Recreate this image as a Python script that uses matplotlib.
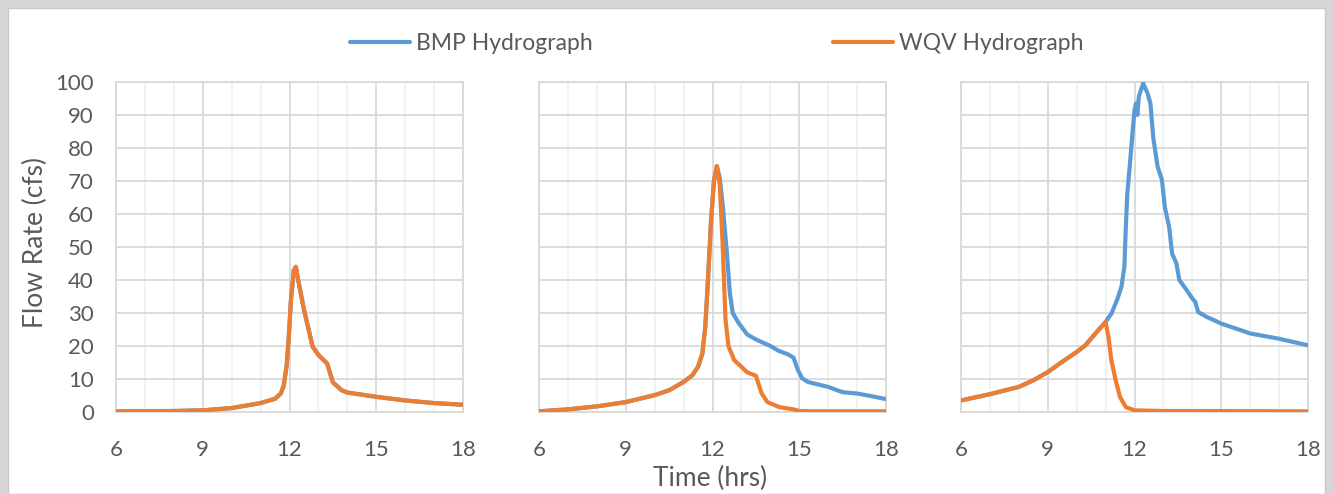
import numpy as np
import matplotlib
matplotlib.use("Agg")
import matplotlib.pyplot as plt
from matplotlib.patches import Rectangle

plt.rcParams['font.family'] = ['Lato', 'DejaVu Sans']

# Panel 1 (both hydrographs are the same)
t1 = [6, 8, 9, 10, 11, 11.5, 11.7, 11.8, 11.9, 11.97, 12.05, 12.15, 12.22, 12.3, 12.5, 12.8,
      13.0, 13.3, 13.5, 13.8, 14, 15, 16, 17, 18]
q1 = [0.2, 0.3, 0.5, 1.2, 2.7, 4.0, 5.6, 8.0, 14.0, 22.0, 34, 43, 44, 40, 31, 19.8,
      17.3, 14.7, 9.0, 6.6, 5.9, 4.6, 3.5, 2.7, 2.2]

# Panel 2
t2_wqv = [6, 7, 8, 9, 10, 10.5, 11, 11.3, 11.5, 11.65, 11.75, 11.85, 11.95, 12.05,
          12.15, 12.25, 12.35, 12.45, 12.55, 12.75, 13.0, 13.2, 13.5, 13.7, 13.9,
          14.3, 14.8, 15, 15.5, 18]
q2_wqv = [0.2, 0.8, 1.7, 3.0, 5.1, 6.6, 9.1, 11.1, 13.7, 17.7, 25.8, 41, 58, 70,
          74.5, 69, 51, 28, 20, 15.7, 13.7, 12, 11, 5.6, 3.0,
          1.5, 0.8, 0.3, 0.2, 0.2]
t2_bmp = [6, 7, 8, 9, 10, 10.5, 11, 11.3, 11.5, 11.65, 11.75, 11.85, 11.95, 12.05,
          12.15, 12.25, 12.35, 12.5, 12.6, 12.7, 12.9, 13.2, 13.5, 14.0, 14.3, 14.6,
          14.8, 14.95, 15.1, 15.3, 16, 16.5, 17, 17.5, 18]
q2_bmp = [0.2, 0.8, 1.7, 3.0, 5.1, 6.6, 9.1, 11.1, 13.7, 17.7, 25.8, 41, 58, 70,
          74.5, 71, 63, 48, 36, 30, 27, 23.5, 22, 20, 18.5, 17.5,
          16.5, 12.8, 10.2, 9.1, 7.6, 6.0, 5.6, 4.8, 3.9]

# Panel 3
t3_wqv = [6, 7, 8, 8.5, 9, 9.5, 10, 10.3, 10.6, 10.9, 11.0, 11.1, 11.2, 11.35,
          11.5, 11.7, 12, 13, 18]
q3_wqv = [3.5, 5.4, 7.6, 9.6, 12.1, 15.2, 18.2, 20.2, 23.3, 26.3, 27.3, 22.7, 15.7, 9.6,
          4.5, 1.5, 0.5, 0.3, 0.2]
t3_bmp = [6, 7, 8, 8.5, 9, 9.5, 10, 10.3, 10.6, 10.9, 11.0, 11.2, 11.4, 11.55, 11.65,
          11.7, 11.75, 11.85, 11.95, 12.0, 12.05, 12.1, 12.15, 12.3, 12.45, 12.55,
          12.65, 12.8, 12.95, 13.05, 13.2, 13.3, 13.45, 13.55, 13.8, 14.0, 14.1,
          14.2, 14.5, 15, 15.5, 16, 17, 18]
q3_bmp = [3.5, 5.4, 7.6, 9.6, 12.1, 15.2, 18.2, 20.2, 23.3, 26.3, 27.3, 29.8, 34, 38, 44,
          56, 66, 76, 86.5, 91.5, 93.5, 90, 95.6, 99.6, 96.6, 93.5,
          83, 74.3, 70.3, 62, 56, 48, 45, 40, 37, 34.4, 33.4,
          30.3, 28.8, 26.8, 25.3, 23.8, 22.2, 20.2]

panels = [(t1, q1, t1, q1), (t2_bmp, q2_bmp, t2_wqv, q2_wqv), (t3_bmp, q3_bmp, t3_wqv, q3_wqv)]

blue = '#5B9BD5'
orange = '#ED7D31'
txt = '#595959'

W, H = 1333, 494
fig = plt.figure(figsize=(W / 100, H / 100), dpi=100, facecolor='#d6d6d6')
fig.patches.append(Rectangle((8 / W, 0), (W - 16) / W, (H - 8) / H, transform=fig.transFigure,
                             facecolor='white', edgecolor='#c8c8c8', linewidth=1, zorder=-10))

lefts = [116, 539, 961]
axes = []
for i, (tb, qb, tw, qw) in enumerate(panels):
    ax = fig.add_axes([lefts[i] / W, (H - 412) / H, 347 / W, 330 / H], zorder=2)
    ax.set_facecolor('white')
    lb, = ax.plot(tb, qb, color=blue, lw=3.0, solid_capstyle='round',
                  solid_joinstyle='round', zorder=3)
    lw_, = ax.plot(tw, qw, color=orange, lw=3.0, solid_capstyle='round',
                   solid_joinstyle='round', zorder=4)
    ax.set_xlim(6, 18)
    ax.set_ylim(0, 100)
    ax.set_xticks([6, 9, 12, 15, 18])
    ax.set_xticks(np.arange(6, 19, 1), minor=True)
    ax.set_yticks(np.arange(0, 101, 10))
    ax.grid(which='major', color='#d9d9d9', lw=1.3, zorder=0)
    ax.grid(which='minor', axis='x', color='#efefef', lw=1.1, zorder=0)
    ax.set_axisbelow(True)
    for s in ax.spines.values():
        s.set_color('#d9d9d9')
        s.set_linewidth(1.3)
    ax.tick_params(which='both', length=0, labelsize=16, labelcolor=txt, pad=20)
    ax.tick_params(axis='y', pad=16)
    if i > 0:
        ax.set_yticklabels([])
    axes.append(ax)

fig.text(35 / W, 1 - 242 / H, 'Flow Rate (cfs)', fontsize=19, color=txt,
         rotation=90, ha='center', va='center')
fig.text(710 / W, 1 - 478 / H, 'Time (hrs)', fontsize=19, color=txt, ha='center', va='center')

fig.legend([lb, lw_], ['BMP Hydrograph', 'WQV Hydrograph'], loc='center',
           bbox_to_anchor=(717 / W, 1 - 44 / H), ncol=2, frameon=False, fontsize=16.5,
           labelcolor=txt, handlelength=2.6, handletextpad=0.27, columnspacing=10.5)

fig.savefig('out.png', dpi=100, facecolor=fig.get_facecolor())
